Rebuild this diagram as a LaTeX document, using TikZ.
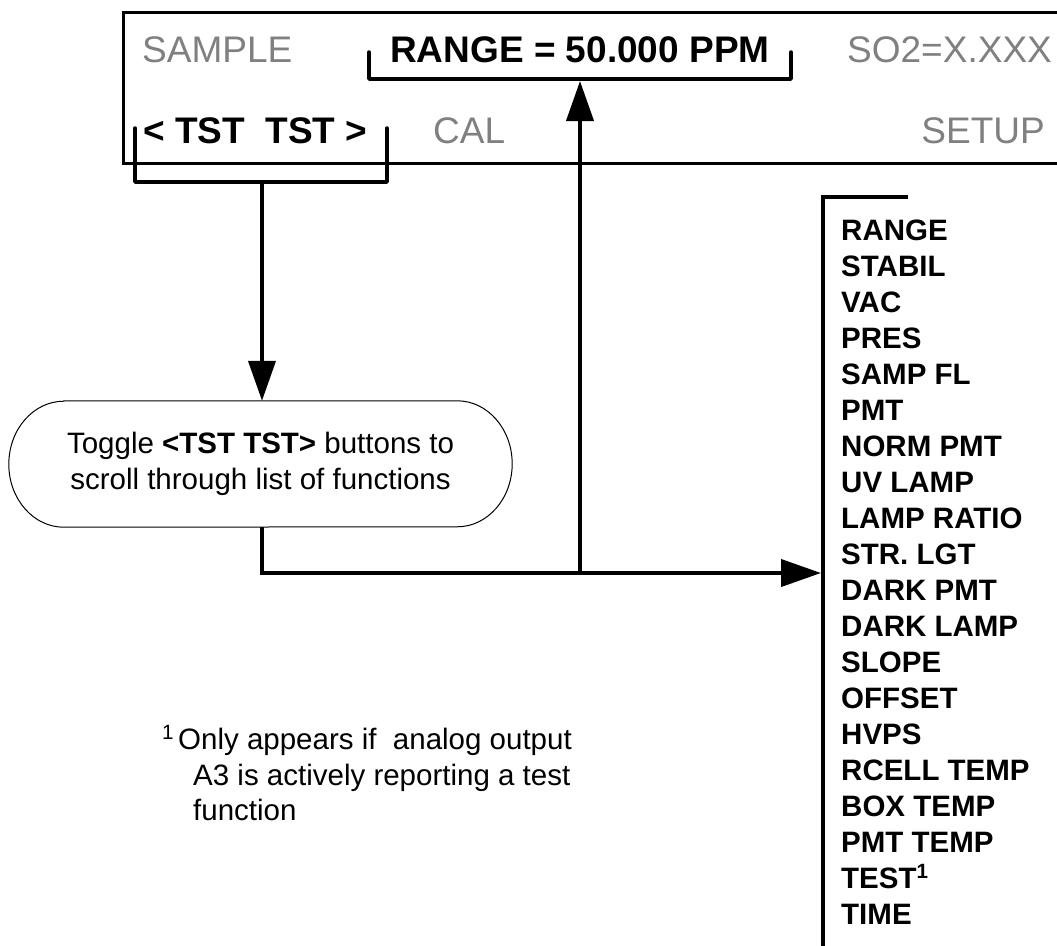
\documentclass[tikz,border=0pt]{standalone}
\usepackage{fontspec}
\setmainfont{Liberation Sans}
\usetikzlibrary{arrows.meta}
\definecolor{lcdgray}{RGB}{128,128,128}
\begin{document}
\begin{tikzpicture}[x=1pt,y=1pt,
  big/.style={font=\fontsize{37}{44}\selectfont, inner sep=0pt, anchor=base west},
  lcd/.style={big, text=lcdgray},
  sel/.style={big, font=\fontsize{37}{44}\selectfont\bfseries},
  item/.style={font=\fontsize{29.5}{36}\selectfont\bfseries, inner sep=0pt, anchor=base west},
  note/.style={font=\fontsize{29.5}{36}\selectfont, inner sep=0pt, anchor=base west},
  frame/.style={line width=3pt},
  bracket/.style={line width=3.5pt, line join=round, line cap=round},
  conn/.style={line width=4pt},
  arr/.style={conn, -{Triangle[length=40pt,width=27pt]}},
]
\useasboundingbox (0,0) rectangle (1057,-945);
% display frame
\draw[frame] (1057,-12) -- (123,-12) -- (123,-163) -- (1057,-163);
\node[lcd] (sample) at (142,-62) {SAMPLE};
\node[sel] (range) at (390,-62) {RANGE = 50.000 PPM};
\node[lcd] (so2) at (847,-62) {SO2=X.XXX};
\node[sel] (tst) at (143,-143) {< TST\ \ TST >};
\node[lcd] (cal) at (433,-143) {CAL};
\node[lcd, anchor=base east] (setup) at (1045,-143) {SETUP};
% brackets
\draw[bracket] (369,-52) -- (369,-79) -- (791,-79) -- (791,-52);
\coordinate (rb) at (580,-81);
\draw[bracket] (135,-128) -- (135,-182) -- (387,-182) -- (387,-128);
\coordinate (tb) at (262,-182);
% toggle node
\node[minimum width=503pt, minimum height=126pt, inner sep=0pt, align=center,
      font=\fontsize{29.5}{36}\selectfont] (tog) at (260.5,-464)
  {Toggle \textbf{<TST TST>} buttons to\\scroll through list of functions};
\draw[line width=1pt] ([xshift=55pt]tog.north west) -- ([xshift=-55pt]tog.north east)
  arc[start angle=90, end angle=-90, x radius=55pt, y radius=63pt]
  -- ([xshift=55pt]tog.south west)
  arc[start angle=270, end angle=90, x radius=55pt, y radius=63pt] -- cycle;
% connectors
\coordinate (j) at (580,-573);
\coordinate (lin) at (821,-573);
\draw[arr] (tb) -- (tb |- tog.north);
\draw[arr] (tb |- tog.south) |- (lin);
\draw[arr] (j) -- (rb);
% list
\draw[line width=4pt] (908,-197) -- (823,-197) -- (823,-950);
\foreach \t [count=\i from 0] in {RANGE, STABIL, VAC, PRES, SAMP FL, PMT, NORM PMT, UV LAMP, LAMP RATIO, STR. LGT, DARK PMT, DARK LAMP, SLOPE, OFFSET, HVPS, RCELL TEMP, BOX TEMP, PMT TEMP, {TEST\textsuperscript{1}}, TIME}
  \node[item] (f\i) at (841,-240-36*\i) {\t};
% footnote
\node[note] (n1) at (162,-749) {\textsuperscript{1}\hspace{4pt}Only appears if\ \ analog output};
\node[note] (n2) at (193,-785) {A3 is actively reporting a test};
\node[note] (n3) at (193,-820) {function};
\end{tikzpicture}
\end{document}
